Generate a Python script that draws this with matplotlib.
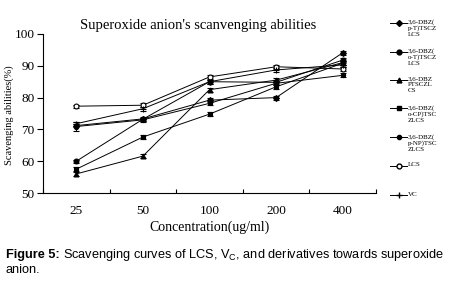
import matplotlib
matplotlib.use("Agg")
import matplotlib.pyplot as plt
from matplotlib.lines import Line2D
import numpy as np

plt.rcParams["mathtext.fontset"] = "custom"
plt.rcParams["mathtext.rm"] = "Liberation Sans"

concentrations = ["25", "50", "100", "200", "400"]

series_labels = [
    "3,6-DBZ(\np-T)TSCZ\nLCS",
    "3,6-DBZ(\no-T)TSCZ\nLCS",
    "3,6-DBZ\nPTSCZL\nCS",
    "3,6-DBZ(\no-CP)TSC\nZLCS",
    "3,6-DBZ(\np-NP)TSC\nZLCS",
    "LCS",
    "VC",
]

p_T = [71.2, 73.3, 79.2, 80.0, 94.1]
o_T = [60.0, 73.2, 85.0, 84.8, 91.8]
PTSCZ = [56.0, 61.6, 82.5, 85.5, 91.0]
o_CP = [57.5, 67.6, 74.8, 83.4, 90.8]
p_NP = [70.9, 73.0, 78.2, 84.5, 87.0]
LCS = [77.3, 77.6, 86.5, 89.7, 89.0]
VC = [71.8, 76.5, 85.0, 88.7, 90.3]

err_p_T = [0.6, 0.6, 0.6, 0.6, 0.6]
err_o_T = [0.5, 0.5, 0.6, 0.6, 0.6]
err_PTSCZ = [0.6, 0.6, 0.6, 0.6, 0.6]
err_o_CP = [0.6, 0.5, 0.7, 0.6, 0.6]
err_p_NP = [1.5, 0.6, 0.6, 0.6, 0.6]
err_LCS = [0.5, 0.6, 0.6, 0.6, 0.6]
err_VC = [0.6, 0.6, 0.6, 0.6, 0.6]

values = [p_T, o_T, PTSCZ, o_CP, p_NP, LCS, VC]
errors = [err_p_T, err_o_T, err_PTSCZ, err_o_CP, err_p_NP, err_LCS, err_VC]
markers = ["D", "o", "^", "s", "o", "o", "+"]
msizes = [3, 3.5, 3.5, 3, 3, 3.5, 4]
faces = ["black", "black", "black", "black", "black", "white", "black"]

serif = "Liberation Serif"

fig = plt.figure(figsize=(4.54, 2.84), dpi=100)
ax = fig.add_axes([43 / 454, 1 - 193 / 284, 333 / 454, 159 / 284])

x = np.arange(len(concentrations))
for v, e, m, ms, fc in zip(values, errors, markers, msizes, faces):
    ax.errorbar(x, v, yerr=e, color="black", lw=0.7, marker=m, ms=ms,
                mfc=fc, mec="black", mew=0.8, capsize=2, elinewidth=0.7,
                capthick=0.7)

ax.set_xlim(-0.5, len(concentrations) - 0.5)
ax.set_ylim(50, 100)
ax.set_yticks(np.arange(50, 101, 10))
ax.set_xticks(x)
ax.set_xticklabels(concentrations, fontfamily=serif, fontsize=9.5)
ax.set_xticks(np.arange(-0.5, len(concentrations), 1.0), minor=True)
ax.tick_params(axis="x", which="major", length=0, pad=9)
ax.tick_params(axis="x", which="minor", direction="in", length=3, width=0.8)
ax.tick_params(axis="y", direction="out", length=4, width=0.8, pad=2)
for lab in ax.get_yticklabels():
    lab.set_fontfamily(serif)
    lab.set_fontsize(9.5)
for s in ["top", "right"]:
    ax.spines[s].set_visible(False)
for s in ["left", "bottom"]:
    ax.spines[s].set_linewidth(0.8)

ax.set_xlabel("Concentration(ug/ml)", fontfamily=serif, fontsize=10, labelpad=2)
fig.text(9 / 454, 1 - 115 / 284, "Scavenging abilities(%)", rotation=90,
         ha="center", va="center", fontfamily=serif, fontsize=7.5)
fig.text(198 / 454, 1 - 25 / 284, "Superoxide anion's scanvenging abilities",
         ha="center", va="center", fontfamily=serif, fontsize=10.5)

# legend drawn manually
leg_y = [22.7, 51.7, 80, 108.3, 137.3, 165.7, 195]
for lab, yy, m, ms, fc in zip(series_labels, leg_y, markers, msizes, faces):
    yf = 1 - yy / 284
    fig.add_artist(Line2D([390 / 454, 398.5 / 454, 407 / 454], [yf, yf, yf],
                          color="black", lw=0.7, marker=m, markevery=[1],
                          ms=ms, mfc=fc, mec="black",
                          transform=fig.transFigure))
    fig.text(408 / 454, yf + 3.5 / 284, lab, ha="left", va="top",
             fontfamily=serif, fontsize=5, linespacing=1.15)

# caption
cap_fs = 9.2
cap_y = 1 - 258 / 284
t_bold = fig.text(6 / 454, cap_y, "Figure 5:", ha="left", va="baseline",
                  fontfamily="Liberation Sans", fontweight="bold", fontsize=cap_fs)
fig.canvas.draw()
bb = t_bold.get_window_extent(renderer=fig.canvas.get_renderer())
x_rest = (bb.x1 + 3) / fig.bbox.width
fig.text(x_rest, cap_y,
         r"Scavenging curves of LCS, V$_\mathregular{C}$, and derivatives towards superoxide",
         ha="left", va="baseline", fontfamily="Liberation Sans", fontsize=cap_fs)
fig.text(6 / 454, 1 - 273 / 284, "anion.", ha="left", va="baseline",
         fontfamily="Liberation Sans", fontsize=cap_fs)

fig.savefig("out.png", dpi=100)
